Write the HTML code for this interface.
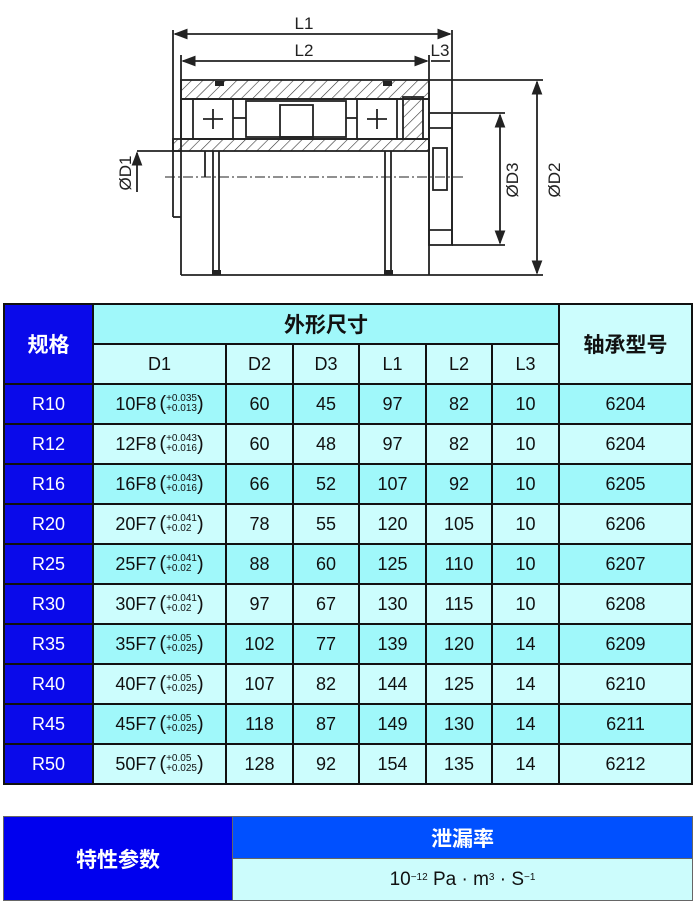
<!DOCTYPE html>
<html><head><meta charset="utf-8"><style>
body{margin:0;width:695px;height:908px;background:#fff;position:relative;overflow:hidden;font-family:"Liberation Sans","Noto Sans CJK SC",sans-serif}
.c{position:absolute;box-sizing:border-box;display:flex;align-items:center;justify-content:center;font-size:18px;color:#111;border:2px solid #111}
.b{background:#0a0aea;color:#fff}
.a{background:#a0f8fa}.l{background:#ccfdfd}
.h{font-weight:bold;font-size:21px}
.tol{display:inline-flex;align-items:center;font-size:10px;line-height:10px;margin-left:3px}
.tol b{font-weight:normal;font-size:20px;line-height:20px}
.tol span{display:inline-block;text-align:left}
sup{font-size:10px;line-height:0;position:relative;top:-2px}
</style></head><body>
<svg width="695" height="300" style="position:absolute;left:0;top:0" viewBox="0 0 695 300">
<defs><pattern id="hp" width="8" height="8" patternUnits="userSpaceOnUse" patternTransform="rotate(45)"><line x1="0" y1="0" x2="0" y2="8" stroke="#333" stroke-width="1.2"/></pattern>
<marker id="ar" markerWidth="8" markerHeight="6" refX="7" refY="3" orient="auto-start-reverse"><path d="M0,0L8,3L0,6z" fill="#222"/></marker></defs>
<g stroke="#222" stroke-width="1.8" fill="none">
<line x1="173" y1="30" x2="173" y2="217"/><line x1="173" y1="217" x2="181" y2="217"/>
<line x1="452" y1="30" x2="452" y2="245"/>
<line x1="175" y1="34" x2="450" y2="34" marker-start="url(#ar)" marker-end="url(#ar)"/>
<line x1="181" y1="55" x2="181" y2="275"/>
<line x1="429" y1="55" x2="429" y2="275"/>
<line x1="183" y1="61" x2="427" y2="61" marker-start="url(#ar)" marker-end="url(#ar)"/>
<line x1="431" y1="61" x2="450" y2="61"/>
<rect x="181" y="80" width="248" height="19" fill="url(#hp)"/>
<line x1="429" y1="80" x2="543" y2="80"/>
<line x1="181" y1="275" x2="543" y2="275"/>
<line x1="537" y1="82" x2="537" y2="273" marker-start="url(#ar)" marker-end="url(#ar)"/>
<rect x="181" y="99" width="248" height="40"/>
<rect x="193" y="99" width="40" height="40"/><rect x="357" y="99" width="40" height="40"/>
<rect x="246" y="101" width="100" height="36"/><rect x="280" y="105" width="33" height="32"/>
<line x1="233" y1="118" x2="246" y2="118"/><line x1="346" y1="118" x2="357" y2="118"/>
<line x1="203" y1="119" x2="223" y2="119"/><line x1="213" y1="109" x2="213" y2="129"/>
<line x1="367" y1="119" x2="387" y2="119"/><line x1="377" y1="109" x2="377" y2="129"/>
<rect x="403" y="97" width="20" height="42" fill="url(#hp)"/>
<rect x="173" y="139" width="256" height="12" fill="url(#hp)"/>
<line x1="137" y1="151" x2="181" y2="151"/>
<line x1="137" y1="153" x2="137" y2="192" marker-start="url(#ar)"/>
<line x1="213" y1="151" x2="213" y2="275"/><line x1="219" y1="151" x2="219" y2="275"/>
<line x1="385" y1="151" x2="385" y2="275"/><line x1="391" y1="151" x2="391" y2="275"/>
<line x1="205" y1="151" x2="205" y2="177"/>
<rect x="429" y="113" width="23" height="132"/>
<line x1="429" y1="128" x2="452" y2="128"/><line x1="429" y1="230" x2="452" y2="230"/>
<rect x="433" y="148" width="14" height="42"/>
<line x1="452" y1="113" x2="505" y2="113"/><line x1="452" y1="245" x2="505" y2="245"/>
<line x1="500" y1="115" x2="500" y2="243" marker-start="url(#ar)" marker-end="url(#ar)"/>
<line x1="165" y1="177" x2="465" y2="177" stroke-dasharray="10,3,2,3" stroke-width="1"/>
</g>
<g fill="#222"><rect x="215" y="81" width="9" height="5"/><rect x="383" y="81" width="9" height="5"/><rect x="212" y="270" width="9" height="5"/><rect x="384" y="270" width="9" height="5"/></g>
<g font-family="Liberation Sans,sans-serif" font-size="17" fill="#222">
<text x="304" y="29" text-anchor="middle">L1</text>
<text x="304" y="56" text-anchor="middle">L2</text>
<text x="440" y="56" text-anchor="middle">L3</text>
<text transform="translate(131,173) rotate(-90)" text-anchor="middle">ØD1</text>
<text transform="translate(518,180) rotate(-90)" text-anchor="middle">ØD3</text>
<text transform="translate(560,180) rotate(-90)" text-anchor="middle">ØD2</text>
</g>
</svg>
<div class="c b h" style="left:3px;top:303px;width:91px;height:82px">规格</div>
<div class="c a h" style="left:92px;top:303px;width:468px;height:42px;color:#111">外形尺寸</div>
<div class="c l h" style="left:558px;top:303px;width:135px;height:82px;color:#111">轴承型号</div>
<div class="c l" style="left:92px;top:343px;width:135px;height:42px">D1</div>
<div class="c l" style="left:225px;top:343px;width:69px;height:42px">D2</div>
<div class="c l" style="left:292px;top:343px;width:68px;height:42px">D3</div>
<div class="c l" style="left:358px;top:343px;width:69px;height:42px">L1</div>
<div class="c l" style="left:425px;top:343px;width:68px;height:42px">L2</div>
<div class="c l" style="left:491px;top:343px;width:69px;height:42px">L3</div>
<div id="rows"></div>
<script>
var d=[["R10","10F8","+0.035","+0.013","60","45","97","82","10","6204"],
["R12","12F8","+0.043","+0.016","60","48","97","82","10","6204"],
["R16","16F8","+0.043","+0.016","66","52","107","92","10","6205"],
["R20","20F7","+0.041","+0.02","78","55","120","105","10","6206"],
["R25","25F7","+0.041","+0.02","88","60","125","110","10","6207"],
["R30","30F7","+0.041","+0.02","97","67","130","115","10","6208"],
["R35","35F7","+0.05","+0.025","102","77","139","120","14","6209"],
["R40","40F7","+0.05","+0.025","107","82","144","125","14","6210"],
["R45","45F7","+0.05","+0.025","118","87","149","130","14","6211"],
["R50","50F7","+0.05","+0.025","128","92","154","135","14","6212"]];
var xs=[3,92,225,292,358,425,491,558,693],h="";
d.forEach(function(r,i){var y=383+i*40,cl=i%2?"l":"a";
h+='<div class="c b" style="left:3px;top:'+y+'px;width:91px;height:42px">'+r[0]+'</div>';
h+='<div class="c '+cl+'" style="left:92px;top:'+y+'px;width:135px;height:42px">'+r[1]+'<span class="tol"><b>(</b><span>'+r[2]+'<br>'+r[3]+'</span><b>)</b></span></div>';
for(var k=2;k<8;k++){h+='<div class="c '+cl+'" style="left:'+xs[k]+'px;top:'+y+'px;width:'+(xs[k+1]-xs[k]+(k<7?2:0))+'px;height:42px">'+r[k+2]+'</div>';}
});
document.getElementById("rows").outerHTML=h;
</script>
<div class="c h" style="left:3px;top:816px;width:230px;height:85px;background:#0000ee;color:#fff;border:1px solid #666">特性参数</div>
<div class="c h" style="left:232px;top:816px;width:461px;height:43px;background:#0050ff;color:#fff;border:1px solid #666">泄漏率</div>
<div class="c" style="left:232px;top:858px;width:461px;height:43px;background:#ccfcfc;border:1px solid #666;font-size:19px">10<sup>−12</sup>&nbsp;Pa · m<sup>3</sup>&nbsp;· S<sup>−1</sup></div>
</body></html>
